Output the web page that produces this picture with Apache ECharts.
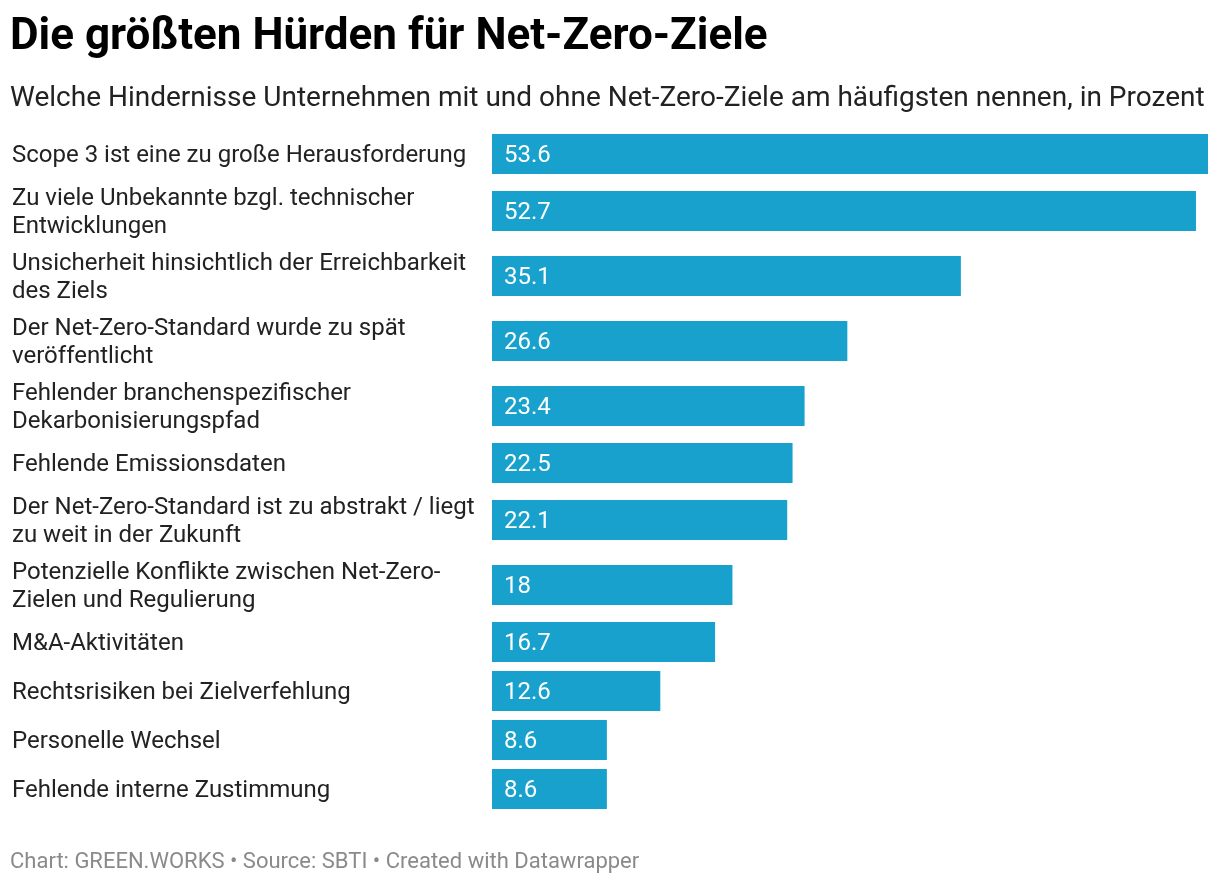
<!DOCTYPE html>
<html>
<head>
<meta charset="utf-8">
<script src="https://cdn.jsdelivr.net/npm/echarts@6/dist/echarts.min.js"></script>
<style>
  html, body { margin: 0; padding: 0; background: #fff; }
  #chart { width: 1220px; height: 884px; }
</style>
</head>
<body>
<div id="chart"></div>
<script>
const titleText = 'Die größten Hürden für Net-Zero-Ziele';
const subtitleText = 'Welche Hindernisse Unternehmen mit und ohne Net-Zero-Ziele am häufigsten nennen, in Prozent';
const footerText = 'Chart: GREEN.WORKS • Source: SBTI • Created with Datawrapper';

const categories = [
  'Scope 3 ist eine zu große Herausforderung',
  'Zu viele Unbekannte bzgl. technischer Entwicklungen',
  'Unsicherheit hinsichtlich der Erreichbarkeit des Ziels',
  'Der Net-Zero-Standard wurde zu spät veröffentlicht',
  'Fehlender branchenspezifischer Dekarbonisierungspfad',
  'Fehlende Emissionsdaten',
  'Der Net-Zero-Standard ist zu abstrakt / liegt zu weit in der Zukunft',
  'Potenzielle Konflikte zwischen Net-Zero-Zielen und Regulierung',
  'M&A-Aktivitäten',
  'Rechtsrisiken bei Zielverfehlung',
  'Personelle Wechsel',
  'Fehlende interne Zustimmung'
];
const values = [53.6, 52.7, 35.1, 26.6, 23.4, 22.5, 22.1, 18, 16.7, 12.6, 8.6, 8.6];

// ---- layout helpers (styling / positioning only) ----
const FONT_FAMILY = 'Roboto, "Noto Sans", sans-serif';
const LABEL_SIZE = 24;
const LINE_H = 28;
const BAR_H = 40;
const ROW_GAP = 9;
const LABEL_MAX_W = 470;

const ctx = document.createElement('canvas').getContext('2d');
ctx.font = LABEL_SIZE + 'px ' + FONT_FAMILY;
function wrap(text) {
  const tokens = text.match(/[^\s-]*-+|[^\s-]+|\s+/g);
  const lines = [];
  let line = '';
  tokens.forEach(t => {
    const test = line + t;
    if (line.trim() && !/^\s+$/.test(t) && ctx.measureText(test.trimEnd()).width > LABEL_MAX_W) {
      lines.push(line.trim());
      line = t.trimStart();
    } else {
      line = test;
    }
  });
  if (line.trim()) lines.push(line.trim());
  return lines;
}
const wrapped = categories.map(wrap);
const rowHeights = wrapped.map(l => Math.max(BAR_H, l.length * LINE_H));
const centers = [];
let acc = 0;
rowHeights.forEach((h, i) => {
  centers.push(acc + h / 2);
  acc += h + (i < rowHeights.length - 1 ? ROW_GAP : 0);
});
const totalH = acc;

const chart = echarts.init(document.getElementById('chart'), null, { renderer: 'canvas' });
const option = {
  backgroundColor: '#ffffff',
  animation: false,
  title: [
    { text: titleText, left: 10, top: 16, padding: 0,
      textStyle: { fontFamily: FONT_FAMILY, fontSize: 44, fontWeight: 'bold', color: '#000' } },
    { text: subtitleText, left: 10, top: 85, padding: 0,
      textStyle: { fontFamily: FONT_FAMILY, fontSize: 28, fontWeight: 'normal', color: '#222' } },
    { text: footerText, left: 10, top: 851, padding: 0,
      textStyle: { fontFamily: FONT_FAMILY, fontSize: 22, fontWeight: 'normal', color: '#8a8a8a' } }
  ],
  grid: { left: 492, right: 12, top: 134, height: totalH },
  xAxis: { type: 'value', min: 0, max: Math.max(...values), show: false },
  yAxis: { type: 'value', min: 0, max: totalH, inverse: true, show: false },
  series: [{
    type: 'custom',
    clip: false,
    data: values.map((v, i) => [v, centers[i], i]),
    renderItem: function (params, api) {
      const i = api.value(2);
      const v = api.value(0);
      const start = api.coord([0, api.value(1)]);
      const end = api.coord([v, api.value(1)]);
      const h = api.size([0, BAR_H])[1];
      return {
        type: 'group',
        children: [
          { type: 'rect',
            shape: { x: start[0], y: start[1] - h / 2, width: end[0] - start[0], height: h },
            style: { fill: '#18a1cd' } },
          { type: 'text', x: start[0] + 12, y: start[1] + 2,
            style: { text: String(values[i]), fill: '#fff', fontSize: LABEL_SIZE,
                     fontFamily: FONT_FAMILY, verticalAlign: 'middle', align: 'left' } },
          { type: 'text', x: 12, y: start[1] + 2,
            style: { text: wrapped[i].join('\n'), fill: '#222', fontSize: LABEL_SIZE,
                     fontFamily: FONT_FAMILY, lineHeight: LINE_H, verticalAlign: 'middle', align: 'left' } }
        ]
      };
    }
  }]
};
chart.setOption(option);
</script>
</body>
</html>
